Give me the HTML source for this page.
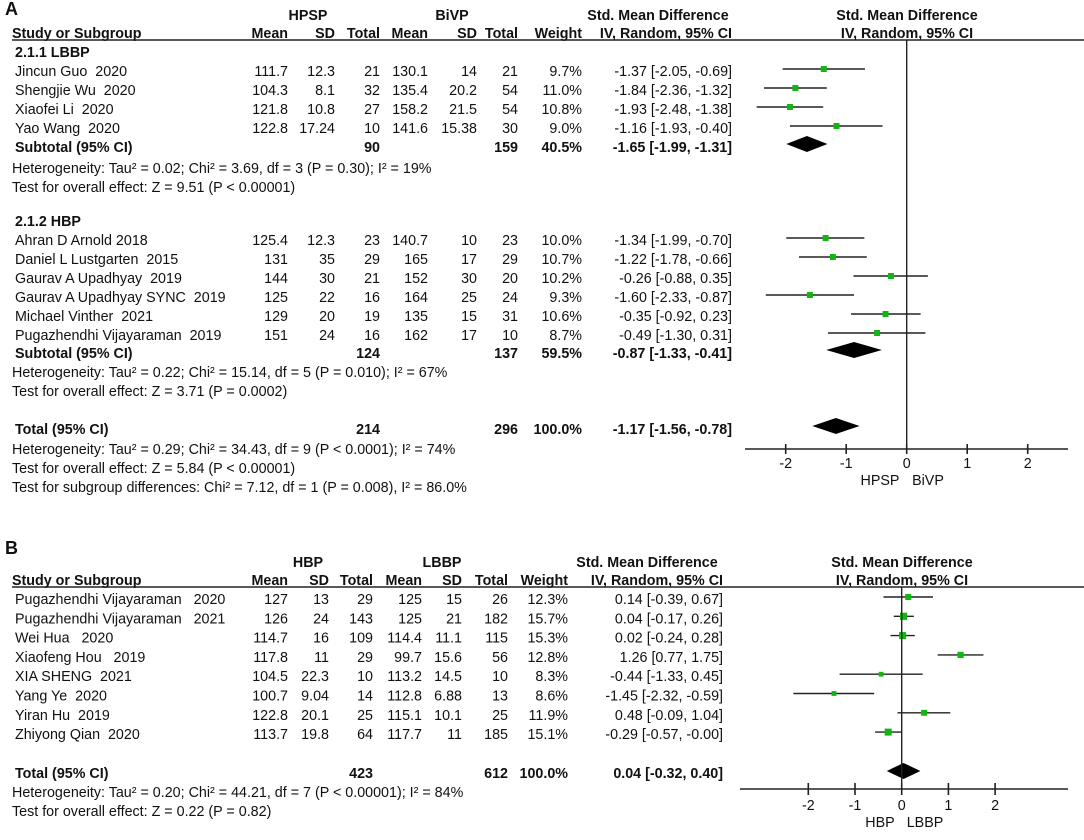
<!DOCTYPE html>
<html><head><meta charset="utf-8"><style>
html,body{margin:0;padding:0;background:#fff;}
svg{display:block;font-family:"Liberation Sans",Arial,sans-serif;}
text{font-size:14.3px;fill:#111;white-space:pre;}
.b{font-weight:bold;}
</style></head><body>
<svg id="c" width="1084" height="840" viewBox="0 0 1084 840" xml:space="preserve"></svg>
<script>
// ===== Panel A data =====
const aStudies = ["Jincun Guo  2020","Shengjie Wu  2020","Xiaofei Li  2020","Yao Wang  2020",
 "Ahran D Arnold 2018","Daniel L Lustgarten  2015","Gaurav A Upadhyay  2019","Gaurav A Upadhyay SYNC  2019","Michael Vinther  2021","Pugazhendhi Vijayaraman  2019"];
const aMean1 = ["111.7","104.3","121.8","122.8","125.4","131","144","125","129","151"];
const aSd1 = ["12.3","8.1","10.8","17.24","12.3","35","30","22","20","24"];
const aN1 = ["21","32","27","10","23","29","21","16","19","16"];
const aMean2 = ["130.1","135.4","158.2","141.6","140.7","165","152","164","135","162"];
const aSd2 = ["14","20.2","21.5","15.38","10","17","30","25","15","17"];
const aN2 = ["21","54","54","30","23","29","20","24","31","10"];
const aWeight = ["9.7%","11.0%","10.8%","9.0%","10.0%","10.7%","10.2%","9.3%","10.6%","8.7%"];
const aEst = [-1.37,-1.84,-1.93,-1.16,-1.34,-1.22,-0.26,-1.60,-0.35,-0.49];
const aLo = [-2.05,-2.36,-2.48,-1.93,-1.99,-1.78,-0.88,-2.33,-0.92,-1.30];
const aHi = [-0.69,-1.32,-1.38,-0.40,-0.70,-0.66,0.35,-0.87,0.23,0.31];
const aSumLabels = ["Subtotal (95% CI)","Subtotal (95% CI)","Total (95% CI)"];
const aSumN1 = ["90","124","214"];
const aSumN2 = ["159","137","296"];
const aSumW = ["40.5%","59.5%","100.0%"];
const aSumEst = [-1.65,-0.87,-1.17];
const aSumLo = [-1.99,-1.33,-1.56];
const aSumHi = [-1.31,-0.41,-0.78];
const aTicks = [-2,-1,0,1,2];
// ===== Panel B data =====
const bStudies = ["Pugazhendhi Vijayaraman   2020","Pugazhendhi Vijayaraman   2021","Wei Hua   2020","Xiaofeng Hou   2019","XIA SHENG  2021","Yang Ye  2020","Yiran Hu  2019","Zhiyong Qian  2020"];
const bMean1 = ["127","126","114.7","117.8","104.5","100.7","122.8","113.7"];
const bSd1 = ["13","24","16","11","22.3","9.04","20.1","19.8"];
const bN1 = ["29","143","109","29","10","14","25","64"];
const bMean2 = ["125","125","114.4","99.7","113.2","112.8","115.1","117.7"];
const bSd2 = ["15","21","11.1","15.6","14.5","6.88","10.1","11"];
const bN2 = ["26","182","115","56","10","13","25","185"];
const bWeight = [12.3,15.7,15.3,12.8,8.3,8.6,11.9,15.1];
const bEst = [0.14,0.04,0.02,1.26,-0.44,-1.45,0.48,-0.29];
const bLo = [-0.39,-0.17,-0.24,0.77,-1.33,-2.32,-0.09,-0.57];
const bHi = [0.67,0.26,0.28,1.75,0.45,-0.59,1.04,-0.00];
const bSumEst = [0.04], bSumLo = [-0.32], bSumHi = [0.40];
const bTicks = [-2,-1,0,1,2];

const NS="http://www.w3.org/2000/svg";
const svg=document.getElementById('c');
function el(tag,attrs,parent){const e=document.createElementNS(NS,tag);for(const k in attrs)e.setAttribute(k,attrs[k]);(parent||svg).appendChild(e);return e;}
function txt(s,x,y,anchor,bold,name){const t=el('text',{x:x,y:y+5,'text-anchor':anchor||'start'});if(bold)t.setAttribute('class','b');t.textContent=s;


return t;}
function f2(v){return (v<0||Object.is(v,-0)?"-":"")+Math.abs(v).toFixed(2);}
function ci(e,l,h){return f2(e)+" ["+f2(l)+", "+f2(h)+"]";}
function line(x1,y1,x2,y2,w,name){const l=el('line',{x1:x1,y1:y1,x2:x2,y2:y2,stroke:'#222','stroke-width':w||1.4});


return l;}
function diamond(sx,y,lo,e,hi,name){const p=el('polygon',{points:`${sx(lo)},${y} ${sx(e)},${y-8} ${sx(hi)},${y} ${sx(e)},${y+8}`,fill:'#000'});

}
function marker(sx,y,e,s,name){const r=el('rect',{x:sx(e)-s/2,y:y-s/2,width:s,height:s,fill:'#13b513'});

}

// ===== Panel A =====
const axA=v=>906.7+v*60.5;
txt("A",5,10,'start',true,'panel-a-label').style.fontSize='18px';
txt("HPSP",308,15,'middle',true,'hpsp-group-header');
txt("BiVP",452,15,'middle',true,'bivp-group-header');
txt("Std. Mean Difference",658,15,'middle',true,'smd-column-header');
txt("Std. Mean Difference",907,15,'middle',true,'smd-plot-header');
const hdrA=[["Study or Subgroup",12,'start'],["Mean",288,'end'],["SD",335,'end'],["Total",380,'end'],["Mean",428,'end'],["SD",477,'end'],["Total",518,'end'],["Weight",582,'end'],["IV, Random, 95% CI",732,'end'],["IV, Random, 95% CI",907,'middle']];
hdrA.forEach(h=>txt(h[0],h[1],33,h[2],true,'column-header'));
line(12,40,1084,40,1.5,'header-rule-a');
txt("2.1.1 LBBP",15,52,'start',true,'subgroup-lbbp');
txt("2.1.2 HBP",15,221,'start',true,'subgroup-hbp');
const aRowY=[71,90,109,128,240,259,278,297,316,335];
aStudies.forEach((s,i)=>{const y=aRowY[i];
 txt(s,15,y,'start',false,'study-name');txt(aMean1[i],288,y,'end');txt(aSd1[i],335,y,'end');txt(aN1[i],380,y,'end');
 txt(aMean2[i],428,y,'end');txt(aSd2[i],477,y,'end');txt(aN2[i],518,y,'end');txt(aWeight[i],582,y,'end');
 txt(ci(aEst[i],aLo[i],aHi[i]),732,y,'end',false,'smd-value');
 line(axA(aLo[i]),y-2,axA(aHi[i]),y-2,1.4,'ci-line');marker(axA,y-2,aEst[i],6,'study-marker');});
const aSumY=[147,353,429];
aSumLabels.forEach((s,i)=>{const y=aSumY[i];
 txt(s,15,y,'start',true,'summary-label');txt(aSumN1[i],380,y,'end',true);txt(aSumN2[i],518,y,'end',true);txt(aSumW[i],582,y,'end',true);
 txt(ci(aSumEst[i],aSumLo[i],aSumHi[i]),732,y,'end',true,'summary-value');
 diamond(axA,y-3,aSumLo[i],aSumEst[i],aSumHi[i],'summary-diamond');});
[["Heterogeneity: Tau² = 0.02; Chi² = 3.69, df = 3 (P = 0.30); I² = 19%",168],["Test for overall effect: Z = 9.51 (P < 0.00001)",187],
 ["Heterogeneity: Tau² = 0.22; Chi² = 15.14, df = 5 (P = 0.010); I² = 67%",372],["Test for overall effect: Z = 3.71 (P = 0.0002)",391],
 ["Heterogeneity: Tau² = 0.29; Chi² = 34.43, df = 9 (P < 0.0001); I² = 74%",449],["Test for overall effect: Z = 5.84 (P < 0.00001)",468],
 ["Test for subgroup differences: Chi² = 7.12, df = 1 (P = 0.008), I² = 86.0%",487]].forEach(r=>txt(r[0],12,r[1],'start',false,'stat-note'));
line(axA(0),40,axA(0),449,1.4,'zero-line-a');
line(745,449,1068,449,1.6,'x-axis-a');
aTicks.forEach(t=>{line(axA(t),444,axA(t),454,1.6,'tick');txt(String(t),axA(t),463,'middle',false,'tick-label');});
txt("HPSP",880,480,'middle',false,'favours-hpsp');txt("BiVP",928,480,'middle',false,'favours-bivp');

// ===== Panel B =====
const axB=v=>901.7+v*46.7;
txt("B",5,549,'start',true,'panel-b-label').style.fontSize='18px';
txt("HBP",308,562,'middle',true,'hbp-group-header');
txt("LBBP",442,562,'middle',true,'lbbp-group-header');
txt("Std. Mean Difference",647,562,'middle',true,'smd-column-header');
txt("Std. Mean Difference",902,562,'middle',true,'smd-plot-header');
const hdrB=[["Study or Subgroup",12,'start'],["Mean",288,'end'],["SD",329,'end'],["Total",373,'end'],["Mean",422,'end'],["SD",462,'end'],["Total",508,'end'],["Weight",568,'end'],["IV, Random, 95% CI",723,'end'],["IV, Random, 95% CI",902,'middle']];
hdrB.forEach(h=>txt(h[0],h[1],580,h[2],true,'column-header'));
line(12,587,1084,587,1.5,'header-rule-b');
bStudies.forEach((s,i)=>{const y=599+i*19.3;
 txt(s,15,y,'start',false,'study-name');txt(bMean1[i],288,y,'end');txt(bSd1[i],329,y,'end');txt(bN1[i],373,y,'end');
 txt(bMean2[i],422,y,'end');txt(bSd2[i],462,y,'end');txt(bN2[i],508,y,'end');txt(bWeight[i].toFixed(1)+"%",568,y,'end');
 txt(ci(bEst[i],bLo[i],bHi[i]),723,y,'end',false,'smd-value');
 line(axB(bLo[i]),y-2,axB(bHi[i]),y-2,1.4,'ci-line');marker(axB,y-2,bEst[i],2+bWeight[i]*0.33,'study-marker');});
txt("Total (95% CI)",15,773,'start',true,'total-label');txt("423",373,773,'end',true);txt("612",508,773,'end',true);txt("100.0%",568,773,'end',true);
txt(ci(bSumEst[0],bSumLo[0],bSumHi[0]),723,773,'end',true,'total-value');
diamond(axB,771,bSumLo[0],bSumEst[0],bSumHi[0],'total-diamond');
txt("Heterogeneity: Tau² = 0.20; Chi² = 44.21, df = 7 (P < 0.00001); I² = 84%",12,792,'start',false,'stat-note');
txt("Test for overall effect: Z = 0.22 (P = 0.82)",12,811,'start',false,'stat-note');
line(axB(0),587,axB(0),789,1.4,'zero-line-b');
line(740,789,1068,789,1.6,'x-axis-b');
bTicks.forEach(t=>{line(axB(t),783,axB(t),795,1.6,'tick');txt(String(t),axB(t),805,'middle',false,'tick-label');});
txt("HBP",880,822,'middle',false,'favours-hbp');txt("LBBP",925,822,'middle',false,'favours-lbbp');
</script>
</body></html>
